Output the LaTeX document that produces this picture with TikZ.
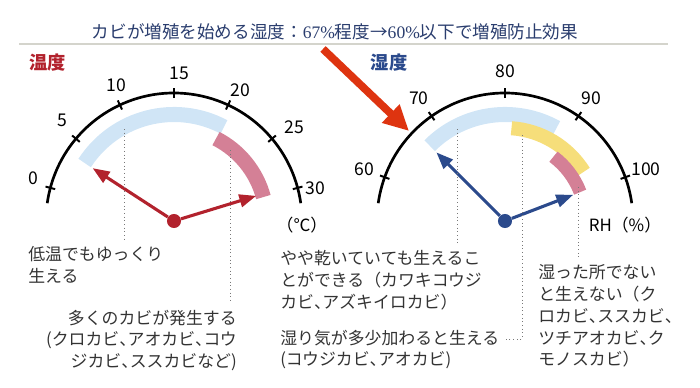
\documentclass[tikz,border=0pt]{standalone}
\usepackage{fontspec}
\setmainfont{Noto Sans CJK JP}
\newfontfamily\numfont{Liberation Serif}
\newfontfamily\hwpunct{Noto Sans CJK JP}[RawFeature=+halt]
\newcommand{\hcomma}{{\hwpunct 、}}
\usetikzlibrary{arrows.meta}

\definecolor{titleblue}{RGB}{42,61,110}
\definecolor{tempred}{RGB}{178,34,45}
\definecolor{humblue}{RGB}{43,74,140}
\definecolor{skyband}{RGB}{208,229,246}
\definecolor{pinkband}{RGB}{212,128,150}
\definecolor{yellowband}{RGB}{246,222,122}
\definecolor{hintred}{RGB}{222,52,16}
\definecolor{notegray}{RGB}{51,51,51}
\definecolor{dotgray}{RGB}{120,120,120}
\definecolor{rulegray}{RGB}{212,212,204}

\begin{document}
\begin{tikzpicture}[x=0.025cm,y=0.025cm,
    gauge/.style={line width=1.9pt},
    tick/.style={line width=1.4pt},
    band/.style={line width=10.7pt},
    needle/.style={line width=2.2pt,-{Triangle[length=12pt,width=9pt]}},
    pivot/.style={circle,inner sep=0pt,minimum size=10pt},
    scalenum/.style={font=\fontsize{12.5}{14}\selectfont},
    leader/.style={dotted,draw=dotgray,line width=0.6pt},
    note/.style={inner sep=0pt,text=notegray,font=\fontsize{12}{15.5}\selectfont}]
    \useasboundingbox (0,0) rectangle (700,-388);

    % title
    \node[text=titleblue,font=\fontsize{12.5}{15}\selectfont] (title) at (335,-32)
        {カビが増殖を始める湿度：{\numfont 67\%}程度→{\numfont 60\%}以下で増殖防止効果};
    \coordinate (ruleL) at (19,-44);
    \coordinate (ruleR) at (668,-44);
    \draw[rulegray,line width=1.2pt] (ruleL) -- (ruleR);

    \node[text=tempred,font=\fontsize{13}{15}\selectfont\bfseries] (templabel) at (47.5,-63) {温度};
    \node[text=humblue,font=\fontsize{13}{15}\selectfont\bfseries] (humlabel) at (389,-63) {湿度};

    % temperature gauge
    \node[pivot,fill=tempred] (ldot) at (174,-221) {};
    \draw[band,skyband] ([shift={(147:106.5)}]ldot.center) arc (147:62:106.5);
    \draw[band,pinkband] ([shift={(63:92.5)}]ldot.center) arc (63:15:92.5);
    \draw[gauge] ([shift={(172:128)}]ldot.center) arc (172:8:128);
    \foreach \v/\r [evaluate=\v as \a using 165-5*\v] in {0/147,5/150,10/147,15/148,20/147,25/153,30/145}{
        \draw[tick] ([shift={(\a:123)}]ldot.center) -- ([shift={(\a:133)}]ldot.center);
        \node[scalenum] (t\v) at ([shift={(\a-2:\r)}]ldot.center) {\v};
    }
    \coordinate (lcold) at ([shift={(147:97)}]ldot.center);
    \coordinate (lwarm) at ([shift={(17:86)}]ldot.center);
    \draw[needle,tempred] (ldot) -- (lcold);
    \draw[needle,tempred] (ldot) -- (lwarm);
    \node[note,text=black] (cunit) at (302,-225) {（℃）};

    % humidity gauge
    \node[pivot,fill=humblue] (rdot) at (505,-221) {};
    \draw[band,skyband] ([shift={(135:106.5)}]rdot.center) arc (135:61:106.5);
    \draw[band,yellowband,line width=10pt] ([shift={(86:93)}]rdot.center) arc (86:32:93);
    \draw[band,pinkband,line width=9.3pt] ([shift={(53:80.5)}]rdot.center) arc (53:21:80.5);
    \draw[gauge] ([shift={(172:128)}]rdot.center) arc (172:8:128);
    \foreach \v [evaluate=\v as \a using 160-3.5*(\v-60)] in {60,70,...,100}{
        \draw[tick] ([shift={(\a:123)}]rdot.center) -- ([shift={(\a:133)}]rdot.center);
        \node[scalenum] (h\v) at ([shift={(\a:150)}]rdot.center) {\v};
    }
    \coordinate (rdry) at ([shift={(135:97)}]rdot.center);
    \coordinate (rwet) at ([shift={(21:73)}]rdot.center);
    \draw[needle,humblue] (rdot) -- (rdry);
    \draw[needle,humblue] (rdot) -- (rwet);
    \node[note,text=black] (hunit) at (625,-225) {RH（\%）};

    % pointer to 67%
    \coordinate (hintstart) at (323,-49);
    \coordinate (hinttip) at (409,-131);
    \draw[hintred,line width=5.5pt,-{Triangle[length=18pt,width=17pt]}] (hintstart) -- (hinttip);

    % notes
    \node[note,anchor=north west,align=left] (coldnote) at (28,-246.5)
        {低温でもゆっくり\\生える};
    \node[note,anchor=north east,align=right] (manynote) at (237,-309.5)
        {多くのカビが発生する\\(クロカビ\hcomma アオカビ\hcomma コウ\\ジカビ\hcomma ススカビなど)};
    \node[note,anchor=north west,align=left] (drynote) at (280,-250.5)
        {やや乾いていても生えるこ\\とができる（カワキコウジ\\カビ\hcomma アズキイロカビ）};
    \node[note,anchor=north west,align=left] (dampnote) at (280,-329.5)
        {湿り気が多少加わると生える\\(コウジカビ\hcomma アオカビ)};
    \node[note,anchor=north west,align=left] (wetnote) at (538,-264.5)
        {湿った所でない\\と生えない（ク\\ロカビ\hcomma ススカビ\hcomma \\ツチアオカビ\hcomma ク\\モノスカビ）};

    % leaders
    \coordinate (la) at (124,-129); \coordinate (lb) at (124,-242);
    \coordinate (lc) at (230,-150); \coordinate (ld) at (230,-302);
    \coordinate (ra) at (457,-129); \coordinate (rb) at (457,-244);
    \coordinate (rc) at (522,-135); \coordinate (rd) at (522,-339); \coordinate (re) at (505,-339);
    \coordinate (rf) at (578,-187); \coordinate (rg) at (578,-260);
    \draw[leader] (la) -- (lb);
    \draw[leader] (lc) -- (ld);
    \draw[leader] (ra) -- (rb);
    \draw[leader] (rc) -- (rd) -- (re);
    \draw[leader] (rf) -- (rg);
\end{tikzpicture}
\end{document}
